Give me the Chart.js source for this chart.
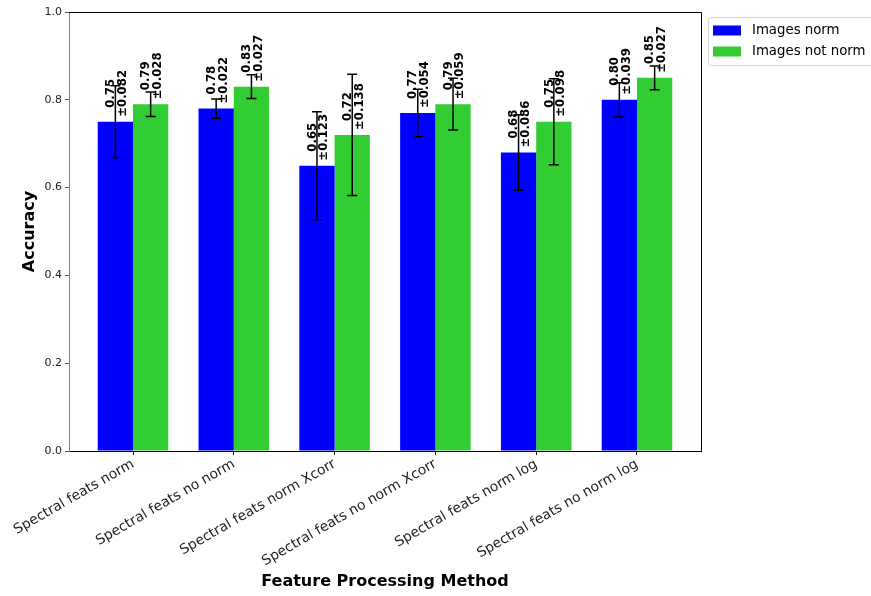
<!DOCTYPE html>
<html>
<head>
<meta charset="utf-8">
<script src="https://cdn.jsdelivr.net/npm/chart.js@4/dist/chart.umd.min.js"></script>
<style>
  body { margin: 0; background: #fff; }
  #wrap { position: relative; width: 871px; height: 596px; }
</style>
</head>
<body>
<div id="wrap"><canvas id="grafico"></canvas></div>
<script>
// --- dados ---
const categorias = ['Spectral feats norm', 'Spectral feats no norm', 'Spectral feats norm Xcorr',
    'Spectral feats no norm Xcorr', 'Spectral feats norm log', 'Spectral feats no norm log'];
const mediaNorm = [0.75, 0.78, 0.65, 0.77, 0.68, 0.80];
const erroNorm = [0.082, 0.022, 0.123, 0.054, 0.086, 0.039];
const mediaSemNorm = [0.79, 0.83, 0.72, 0.79, 0.75, 0.85];
const erroSemNorm = [0.028, 0.027, 0.138, 0.059, 0.098, 0.027];
const ticksY = [0, 0.2, 0.4, 0.6, 0.8, 1.0];

const FONTE = 'DejaVu Sans';

// barras de erro + rótulos rotacionados
const pluginErros = {
    id: 'erros',
    afterDatasetsDraw(chart) {
        const ctx = chart.ctx;
        const y = chart.scales.y;
        chart.data.datasets.forEach((ds, di) => {
            const meta = chart.getDatasetMeta(di);
            meta.data.forEach((bar, i) => {
                const v = ds.data[i].y;
                const e = ds.erros[i];
                const topo = y.getPixelForValue(v + e);
                const base = y.getPixelForValue(v - e);
                ctx.save();
                ctx.strokeStyle = '#000';
                ctx.lineWidth = 1.5;
                ctx.beginPath();
                ctx.moveTo(bar.x, topo); ctx.lineTo(bar.x, base);
                ctx.moveTo(bar.x - 5, topo); ctx.lineTo(bar.x + 5, topo);
                ctx.moveTo(bar.x - 5, base); ctx.lineTo(bar.x + 5, base);
                ctx.stroke();

                // texto "0.75\n±0.082" girado 90°
                const yb = y.getPixelForValue(v) - 5;
                const linhas = [v.toFixed(2), '±' + e.toFixed(3)];
                ctx.font = 'bold 11.7px "' + FONTE + '"';
                const larg = Math.max(...linhas.map(t => ctx.measureText(t).width));
                ctx.translate(bar.x + 1.5, yb - larg / 2);
                ctx.rotate(-Math.PI / 2);
                ctx.fillStyle = '#000';
                ctx.textAlign = 'center';
                ctx.textBaseline = 'middle';
                ctx.fillText(linhas[0], 0, -5.8);
                ctx.fillText(linhas[1], 0, 5.8);
                ctx.restore();
            });
        });
    },
    afterDraw(chart) {
        const ctx = chart.ctx;
        const a = chart.chartArea;
        ctx.save();
        // moldura de cima e da direita
        ctx.strokeStyle = '#000';
        ctx.lineWidth = 1;
        ctx.beginPath();
        ctx.moveTo(a.left, a.top + 0.5); ctx.lineTo(a.right + 0.5, a.top + 0.5);
        ctx.lineTo(a.right + 0.5, a.bottom);
        ctx.stroke();

        // legenda fora do gráfico
        const lx = 708, ly = 17;
        ctx.fillStyle = 'rgba(255,255,255,0.9)';
        ctx.strokeStyle = '#d4d4d4';
        ctx.beginPath();
        ctx.roundRect(lx + 0.5, ly + 0.5, 175, 48, 3);
        ctx.fill();
        ctx.stroke();
        ctx.font = '13.3px "' + FONTE + '"';
        ctx.textBaseline = 'middle';
        chart.data.datasets.forEach((ds, i) => {
            const cy = 30.5 + i * 21;
            ctx.fillStyle = ds.backgroundColor;
            ctx.fillRect(713, cy - 5, 28, 10);
            ctx.fillStyle = '#000';
            ctx.fillText(ds.label, 752, cy);
        });
        ctx.restore();
    }
};

const dados = (arr) => arr.map((v, i) => ({ x: i, y: v }));

new Chart(document.getElementById('grafico'), {
    type: 'bar',
    data: {
        datasets: [
            { label: 'Images norm', data: dados(mediaNorm), erros: erroNorm, backgroundColor: '#0000ff' },
            { label: 'Images not norm', data: dados(mediaSemNorm), erros: erroSemNorm, backgroundColor: '#32cd32' }
        ]
    },
    options: {
        responsive: true,
        maintainAspectRatio: false,
        animation: false,
        categoryPercentage: 0.7,
        barPercentage: 1.0,
        layout: { padding: { left: 0, top: 12, right: 170, bottom: 0 } },
        plugins: { legend: { display: false }, tooltip: { enabled: false } },
        scales: {
            x: {
                type: 'linear',
                min: -0.635,
                max: 5.635,
                offset: false,
                afterBuildTicks: (s) => { s.ticks = categorias.map((c, i) => ({ value: i })); },
                afterFit: (s) => { s.height = 145; },
                grid: { display: true, drawOnChartArea: false, offset: false, tickLength: 4, color: '#000' },
                border: { display: true, color: '#000', width: 1 },
                ticks: {
                    autoSkip: false,
                    minRotation: 30,
                    maxRotation: 30,
                    padding: 1,
                    color: '#222',
                    font: { family: FONTE, size: 13.8 },
                    callback: (v) => categorias[v]
                },
                title: {
                    display: true,
                    text: 'Feature Processing Method',
                    color: '#000',
                    font: { family: FONTE, size: 16, weight: 'bold' },
                    padding: { top: 4, bottom: 5 }
                }
            },
            y: {
                min: 0,
                max: 1,
                afterBuildTicks: (s) => { s.ticks = ticksY.map(v => ({ value: v })); },
                afterFit: (s) => { s.width = 69; },
                grid: { display: true, drawOnChartArea: false, tickLength: 4, color: '#555' },
                border: { display: true, color: '#808080', width: 1 },
                ticks: {
                    padding: 3,
                    color: '#222',
                    font: { family: FONTE, size: 11 },
                    callback: (v) => v.toFixed(1)
                },
                title: {
                    display: true,
                    text: 'Accuracy',
                    color: '#000',
                    font: { family: FONTE, size: 16, weight: 'bold' },
                    padding: { top: 20, bottom: 0 }
                }
            }
        }
    },
    plugins: [pluginErros]
});
</script>
</body>
</html>
